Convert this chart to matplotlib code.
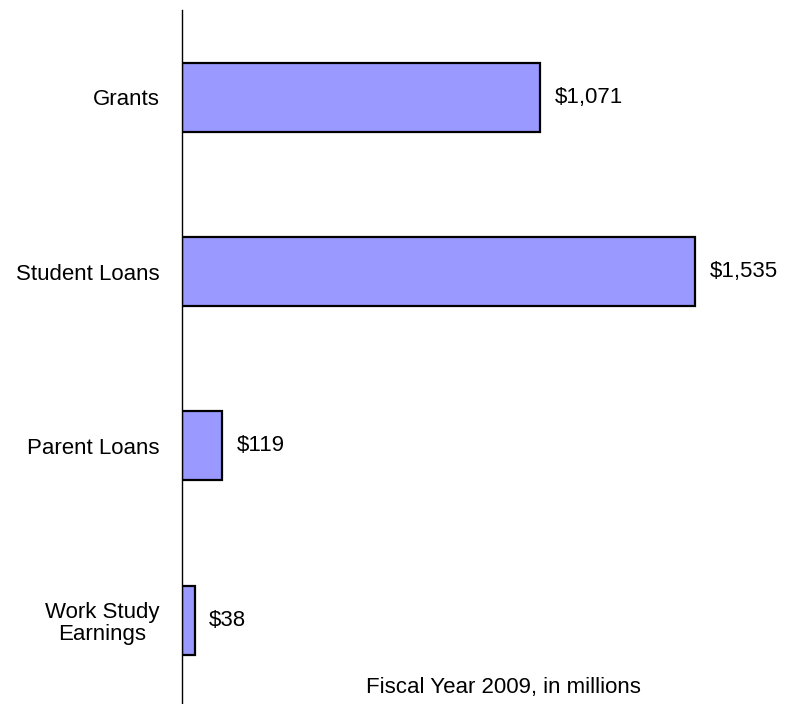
import matplotlib
matplotlib.use("Agg")
import matplotlib.pyplot as plt

categories = ["Grants", "Student Loans", "Parent Loans", "Work Study\nEarnings"]
amounts = [1071, 1535, 119, 38]
value_labels = ["$1,071", "$1,535", "$119", "$38"]

plt.rcParams["font.family"] = ["Liberation Sans", "DejaVu Sans"]

W, H = 785, 704
fig = plt.figure(figsize=(W / 100, H / 100), dpi=100)
ax = fig.add_axes([182 / W, 0, (W - 182) / W, 694 / H])

pos = list(range(len(categories)))
ax.barh(pos, amounts, height=0.395, color="#9999FF", edgecolor="black", linewidth=1.6)

for y, v, lab in zip(pos, amounts, value_labels):
    ax.annotate(lab, (v, y), xytext=(10.5, 0), textcoords="offset points",
                ha="left", va="center", fontsize=16)

ax.set_xlim(0, 1804)
ax.set_ylim(3.48, -0.5)
ax.set_yticks(pos)
ax.set_yticklabels(categories, fontsize=16, multialignment="center", linespacing=1.1)
ax.tick_params(axis="y", length=0, pad=16)
ax.set_xticks([])
for side in ("top", "right", "bottom"):
    ax.spines[side].set_visible(False)
ax.spines["left"].set_linewidth(1.0)

fig.text(503 / W, 1 - 688 / H, "Fiscal Year 2009, in millions",
         ha="center", va="center", fontsize=16)

fig.savefig("out.png", dpi=100)
